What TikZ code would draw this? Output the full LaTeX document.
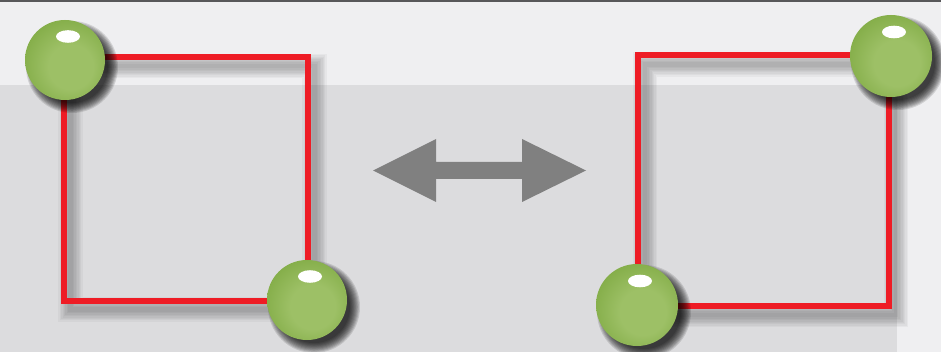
\documentclass[tikz,border=0pt]{standalone}
\usetikzlibrary{calc}
\definecolor{bgtop}{HTML}{EFEFF1}
\definecolor{bglow}{HTML}{DCDCDE}
\definecolor{topline}{HTML}{58585A}
\definecolor{sqred}{HTML}{EE1C25}
\definecolor{arrowgray}{HTML}{808080}
\definecolor{sphl}{HTML}{9DC066}
\definecolor{sphm}{HTML}{86AF4B}
\definecolor{sphd}{HTML}{6A9A34}
\definecolor{sphe}{HTML}{558525}
\pgfdeclareradialshading{sphereshade}{\pgfpoint{5bp}{-6bp}}{color(0bp)=(sphl); color(14bp)=(sphl); color(28bp)=(sphm); color(38bp)=(sphd); color(46bp)=(sphe); color(50bp)=(sphe)}
\tikzset{
  sphere/.style={circle, minimum size=#1, inner sep=0pt, shading=sphereshade},
  sqline/.style={draw=sqred, line width=6pt, line join=miter},
  gloss/.style={fill=white},
}
\newcommand{\sphshadow}[3]{% x y r
  \foreach \k in {1,...,10}{
    \fill[black, opacity=0.12] ({#1+7},{#2+7}) circle ({#3-5+\k*1.1});
  }
}
\newcommand{\sqshadow}[4]{% x1 y1 x2 y2
  \foreach \k in {1,...,8}{
    \draw[black, opacity=0.035, line width={2+2.8*\k}] ({#1+7},{#2+9}) rectangle ({#3+7},{#4+9});
  }
}
\begin{document}
\begin{tikzpicture}[x=1pt,y=-1pt]
  % background
  \fill[bgtop] (0,0) rectangle (941,352);
  \fill[bglow] (0,85) rectangle (897,352);
  \fill[topline] (0,0) rectangle (941,2.2);
  \useasboundingbox (0,0) rectangle (941,352);

  % left square
  \sqshadow{63.5}{57}{307.5}{300.5}
  \coordinate (lA) at (63.5,57);
  \coordinate (lB) at (307.5,300.5);
  \draw[sqline] (lA) rectangle (lB);

  % right square
  \sqshadow{638}{55.5}{889}{306}
  \coordinate (rA) at (638,55.5);
  \coordinate (rB) at (889,306);
  \draw[sqline] (rA) rectangle (rB);

  % arrow
  \fill[arrowgray] (373,170.5) coordinate (arL) -- (436,139) -- (436,162) -- (522,162) -- (522,139)
     -- (586,170.5) coordinate (arR) -- (522,202) -- (522,179) -- (436,179) -- (436,202) -- cycle;

  % spheres
  \sphshadow{65}{60}{40}
  \node[sphere=80pt] (s1) at (65,60) {};
  \fill[gloss] ($(s1.center)+(3,-23.5)$) ellipse (12 and 6.3);

  \sphshadow{307}{300}{40}
  \node[sphere=80pt] (s2) at (307,300) {};
  \fill[gloss] ($(s2.center)+(3,-23.5)$) ellipse (12 and 6.3);

  \sphshadow{891}{56}{41}
  \node[sphere=82pt] (s3) at (891,56) {};
  \fill[gloss] ($(s3.center)+(3,-24)$) ellipse (12 and 6.3);

  \sphshadow{637}{305}{41}
  \node[sphere=82pt] (s4) at (637,305) {};
  \fill[gloss] ($(s4.center)+(3,-24)$) ellipse (12 and 6.3);
\end{tikzpicture}
\end{document}
